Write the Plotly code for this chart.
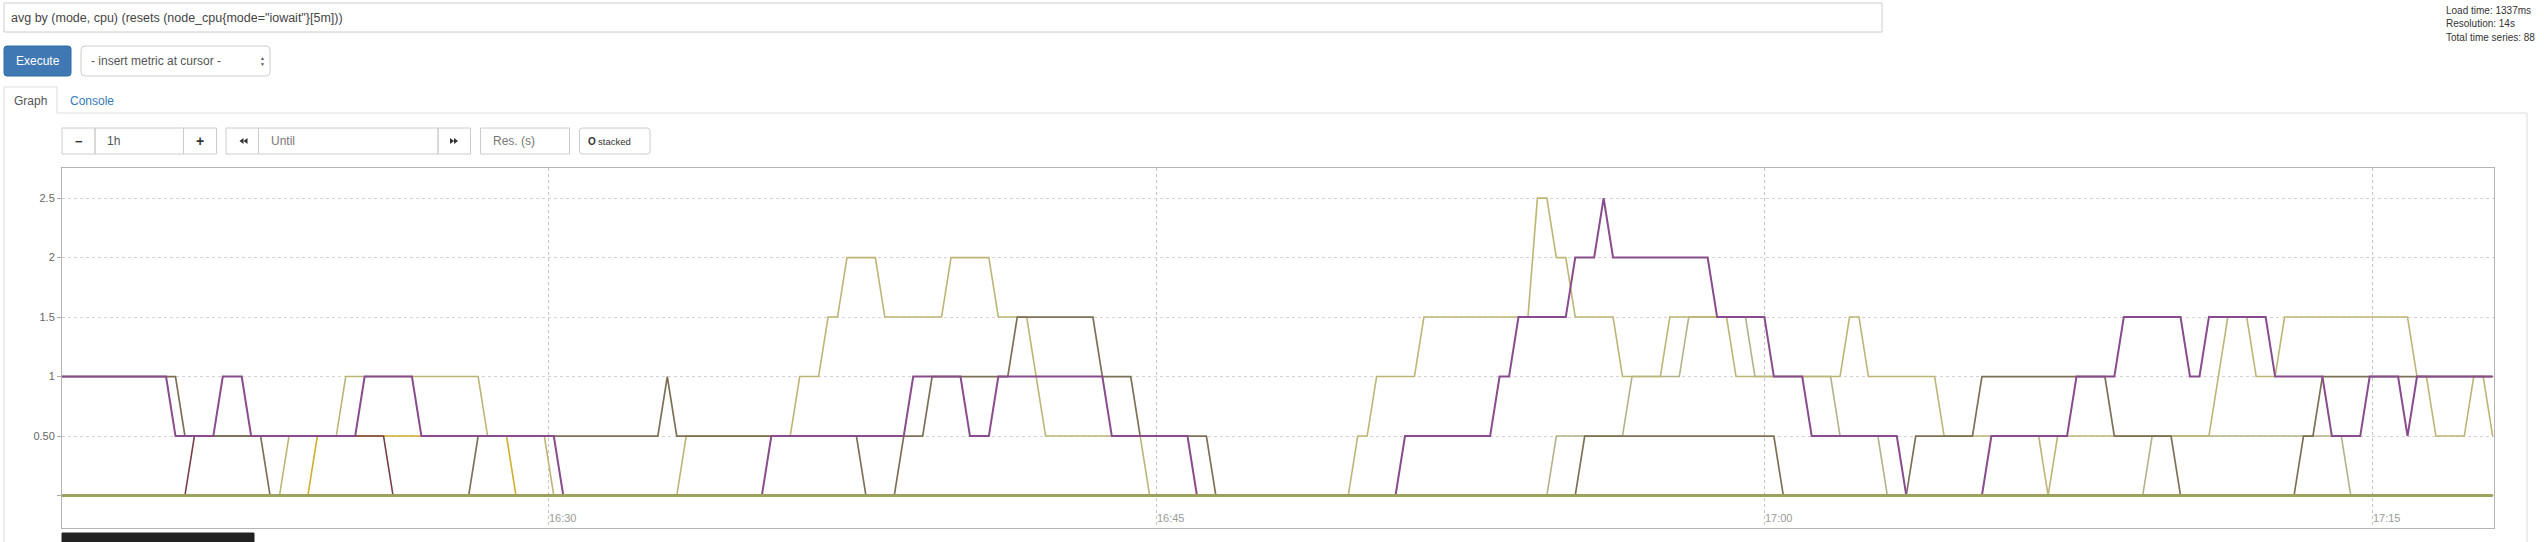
import plotly.graph_objects as go
from datetime import datetime, timedelta

# ---------------- data ----------------
T0 = datetime(2017, 3, 1, 16, 18, 0)
STEP_SECONDS = 14          # resolution 14s
WINDOW_SECONDS = 3600      # 1h range

# vertices of each series: sample index (14 s steps) and value
purple_steps = [0, 11, 12, 16, 17, 19, 20, 31, 32, 37, 38, 52, 53, 74, 75, 89, 90, 95, 96, 98,
                99, 110, 111, 119, 120, 141, 142, 151, 152, 153, 154, 159, 160, 162, 163, 164, 174, 175, 180, 181,
                184, 185, 194, 195, 203, 204, 212, 213, 217, 218, 224, 225, 226, 227, 233, 234, 239, 240, 243, 244,
                247, 248, 249, 257]
purple_values = [1, 1, 0.5, 0.5, 1, 1, 0.5, 0.5, 1, 1, 0.5, 0.5, 0, 0, 0.5, 0.5, 1, 1, 0.5, 0.5,
                 1, 1, 0.5, 0.5, 0, 0, 0.5, 0.5, 1, 1, 1.5, 1.5, 2, 2, 2.5, 2, 2, 1.5, 1.5, 1,
                 1, 0.5, 0.5, 0, 0, 0.5, 0.5, 1, 1, 1.5, 1.5, 1, 1, 1.5, 1.5, 1, 1, 0.5, 0.5, 1,
                 1, 0.5, 1, 1]

brown_steps = [0, 12, 13, 21, 22, 43, 44, 63, 64, 65, 84, 85, 88, 89, 91, 92, 100, 101, 109, 110,
               113, 114, 121, 122, 160, 161, 181, 182, 195, 196, 202, 203, 216, 217, 223, 224, 236, 237, 238, 239,
               257]
brown_values = [1, 1, 0.5, 0.5, 0, 0, 0.5, 0.5, 1, 0.5, 0.5, 0, 0, 0.5, 0.5, 1, 1, 1.5, 1.5, 1,
                1, 0.5, 0.5, 0, 0, 0.5, 0.5, 0, 0, 0.5, 0.5, 1, 1, 0.5, 0.5, 0, 0, 0.5, 0.5, 1,
                1]

maroon_steps = [0, 13, 14, 34, 35, 257]
maroon_values = [0, 0, 0.5, 0.5, 0, 0]

gold_steps = [0, 26, 27, 47, 48, 257]
gold_values = [0, 0, 0.5, 0.5, 0, 0]

khaki1_steps = [0, 23, 24, 29, 30, 44, 45, 51, 52, 65, 66, 77, 78, 80, 81, 82, 83, 86, 87, 93,
                94, 98, 99, 102, 104, 114, 115, 257]
khaki1_values = [0, 0, 0.5, 0.5, 1, 1, 0.5, 0.5, 0, 0, 0.5, 0.5, 1, 1, 1.5, 1.5, 2, 2, 1.5, 1.5,
                 2, 2, 1.5, 1.5, 0.5, 0.5, 0, 0]

khaki2_steps = [0, 136, 137, 138, 139, 143, 144, 155, 156, 157, 158, 159, 160, 164, 165, 169, 170, 176, 177, 188,
                189, 190, 191, 198, 199, 209, 210, 211, 227, 229, 231, 232, 234, 235, 248, 249, 250, 251, 254, 255,
                256, 257]
khaki2_values = [0, 0, 0.5, 0.5, 1, 1, 1.5, 1.5, 2.5, 2.5, 2, 2, 1.5, 1.5, 1, 1, 1.5, 1.5, 1, 1,
                 1.5, 1.5, 1, 1, 0.5, 0.5, 0, 0.5, 0.5, 1.5, 1.5, 1, 1, 1.5, 1.5, 1, 1, 0.5, 0.5, 1,
                 1, 0.5]

khaki3_steps = [0, 157, 158, 165, 166, 171, 172, 178, 179, 187, 188, 192, 193, 220, 221, 241, 242, 257]
khaki3_values = [0, 0, 0.5, 0.5, 1, 1, 1.5, 1.5, 1, 1, 0.5, 0.5, 0, 0, 0.5, 0.5, 0, 0]

# the remaining series stay at 0 for the whole window
idle_steps = [0, 257]
idle_values = [0, 0]

y_tickvals = [0, 0.5, 1, 1.5, 2, 2.5]
y_ticktext = ["", "0.50", "1", "1.5", "2", "2.5"]

query_text = 'avg by (mode, cpu) (resets (node_cpu{mode="iowait"}[5m]))'
stats_lines = ["Load time: 1337ms", "Resolution: 14s", "Total time series: 88"]

# ---------------- layout geometry ----------------
W, H = 2544, 542
ML, MR, MT, MB = 62, 50, 168, 14
PW = W - ML - MR
PH = H - MT - MB
FONT = "Liberation Sans"


def px(x):
    return (x - ML) / PW


def py(y):
    return (H - MB - y) / PH


def times(steps):
    return [T0 + timedelta(seconds=STEP_SECONDS * s) for s in steps]


fig = go.Figure()

series = [
    (gold_steps, gold_values, "#d2ad2e", 1.6),
    (maroon_steps, maroon_values, "#7b3f46", 1.6),
    (khaki3_steps, khaki3_values, "#b3b189", 1.6),
    (khaki2_steps, khaki2_values, "#bdb576", 1.6),
    (khaki1_steps, khaki1_values, "#bdb576", 1.6),
    (brown_steps, brown_values, "#7d7056", 1.7),
    (purple_steps, purple_values, "#884c8c", 2.0),
    (idle_steps, idle_values, "#9ca25d", 3.2),
]
for st, vals, col, w in series:
    fig.add_trace(go.Scatter(x=times(st), y=vals, mode="lines",
                             line=dict(color=col, width=w), hoverinfo="skip"))

x_end = T0 + timedelta(seconds=WINDOW_SECONDS)
fig.update_xaxes(type="date", range=[T0, x_end],
                 tick0=datetime(2017, 3, 1, 16, 30), dtick=15 * 60 * 1000,
                 tickformat="%H:%M", ticklabelposition="inside right",
                 tickfont=dict(family=FONT, size=11, color="#9a9a9a"),
                 showgrid=True, gridcolor="#c4c4c4", griddash="dot", gridwidth=1,
                 showline=True, linecolor="#b4b4b4", linewidth=1, mirror=True,
                 ticks="", zeroline=False, fixedrange=True)
fig.update_yaxes(range=[-0.273, 2.753], tickvals=y_tickvals, ticktext=y_ticktext,
                 tickfont=dict(family=FONT, size=11, color="#666666"),
                 ticks="outside", ticklen=4, tickcolor="#aaaaaa",
                 showgrid=True, gridcolor="#d4d4d4", griddash="dot", gridwidth=1,
                 showline=True, linecolor="#b4b4b4", linewidth=1, mirror=True,
                 zeroline=False, fixedrange=True)

shapes = []
annotations = []


def rect(x0, y0, x1, y1, line="#cccccc", fill="rgba(0,0,0,0)", lw=1):
    shapes.append(dict(type="rect", xref="paper", yref="paper",
                       x0=px(x0), x1=px(x1), y0=py(y1), y1=py(y0),
                       line=dict(color=line, width=lw), fillcolor=fill, layer="above"))


def rrect(x0, y0, x1, y1, r=4, line="#cccccc", fill="rgba(0,0,0,0)", lw=1):
    rx, ry = r / PW, r / PH
    X0, X1, Y0, Y1 = px(x0), px(x1), py(y1), py(y0)
    path = (f"M{X0+rx},{Y1} L{X1-rx},{Y1} Q{X1},{Y1} {X1},{Y1-ry} "
            f"L{X1},{Y0+ry} Q{X1},{Y0} {X1-rx},{Y0} L{X0+rx},{Y0} "
            f"Q{X0},{Y0} {X0},{Y0+ry} L{X0},{Y1-ry} Q{X0},{Y1} {X0+rx},{Y1} Z")
    shapes.append(dict(type="path", xref="paper", yref="paper", path=path,
                       line=dict(color=line, width=lw), fillcolor=fill, layer="above"))


def hline(x0, x1, y, col="#dddddd"):
    shapes.append(dict(type="line", xref="paper", yref="paper", x0=px(x0), x1=px(x1),
                       y0=py(y), y1=py(y), line=dict(color=col, width=1), layer="above"))


def vline(x, y0, y1, col="#dddddd"):
    shapes.append(dict(type="line", xref="paper", yref="paper", x0=px(x), x1=px(x),
                       y0=py(y0), y1=py(y1), line=dict(color=col, width=1), layer="above"))


def text(x, y, t, size=12, color="#333333", anchor="left", bold=False):
    annotations.append(dict(xref="paper", yref="paper", x=px(x), y=py(y),
                            text=(f"<b>{t}</b>" if bold else t), showarrow=False,
                            xanchor=anchor, yanchor="middle", borderpad=0,
                            font=dict(family=FONT, size=size, color=color)))


def tri(xa, xb, yc, h, col="#333333"):
    # triangle pointing from xa (base) to xb (tip)
    path = (f"M{px(xa)},{py(yc - h/2)} L{px(xb)},{py(yc)} L{px(xa)},{py(yc + h/2)} Z")
    shapes.append(dict(type="path", xref="paper", yref="paper", path=path,
                       line=dict(color=col, width=0), fillcolor=col, layer="above"))


# query box
rect(4, 3, 1882, 32, line="#cccccc")
text(10, 18, query_text, size=12.5, color="#444444")
# stats
for i, s in enumerate(stats_lines):
    text(2445, 10 + i * 13.5, s, size=10, color="#333333")
# execute button
rrect(4, 46, 71, 76, r=3, line="#2e6da4", fill="#3f78b3")
text(37.5, 61, "Execute", size=12, color="#ffffff", anchor="center")
# select
rrect(81, 46, 270, 76, r=4, line="#cccccc", fill="#ffffff")
text(90, 61, "- insert metric at cursor -", size=12, color="#555555")
text(262, 58, "▲", size=5, color="#555555", anchor="center")
text(262, 64, "▼", size=5, color="#555555", anchor="center")
# tabs
hline(57, 2527, 113, col="#dddddd")
vline(4, 113, 542, col="#dddddd")
vline(2527, 113, 542, col="#dddddd")
shapes.append(dict(type="path", xref="paper", yref="paper",
                   path=f"M{px(4)},{py(113)} L{px(4)},{py(87)} L{px(57)},{py(87)} L{px(57)},{py(113)}",
                   line=dict(color="#dddddd", width=1), layer="above"))
text(30.5, 100.5, "Graph", size=12, color="#555555", anchor="center")
text(92, 100.5, "Console", size=12, color="#337ab7", anchor="center")
# controls
rect(62, 128, 95, 154)
text(78.5, 141, "<b>−</b>", size=13, color="#333333", anchor="center")
rect(95, 128, 183.5, 154)
text(106, 141, "1h", size=12, color="#555555")
rect(183.5, 128, 216.5, 154)
text(200, 141, "<b>+</b>", size=14, color="#333333", anchor="center")
rect(226, 128, 258.5, 154)
tri(243.5, 239.5, 141, 6)
tri(247.5, 243.5, 141, 6)
rect(258.5, 128, 438, 154)
text(270, 141, "Until", size=12, color="#777777")
rect(438, 128, 470.5, 154)
tri(450, 454, 141, 6)
tri(454, 458, 141, 6)
rect(480.5, 128, 569.5, 154)
text(492, 141, "Res. (s)", size=12, color="#777777")
rrect(579.5, 128, 650, 154, r=3)
text(591.5, 141, "<b>O</b>", size=10, color="#333333", anchor="center")
text(597, 141.5, "stacked", size=9.5, color="#333333")
# dark legend bar at bottom
rect(62, 533, 254, 545, line="#222222", fill="#222222")

fig.update_layout(width=W, height=H, margin=dict(l=ML, r=MR, t=MT, b=MB),
                  paper_bgcolor="#ffffff", plot_bgcolor="#ffffff",
                  showlegend=False, hovermode=False,
                  shapes=shapes, annotations=annotations,
                  font=dict(family=FONT))

fig.write_html("out.html", config={"displayModeBar": False, "staticPlot": True},
               post_script="document.body.style.margin='0';document.body.style.overflow='hidden';")
